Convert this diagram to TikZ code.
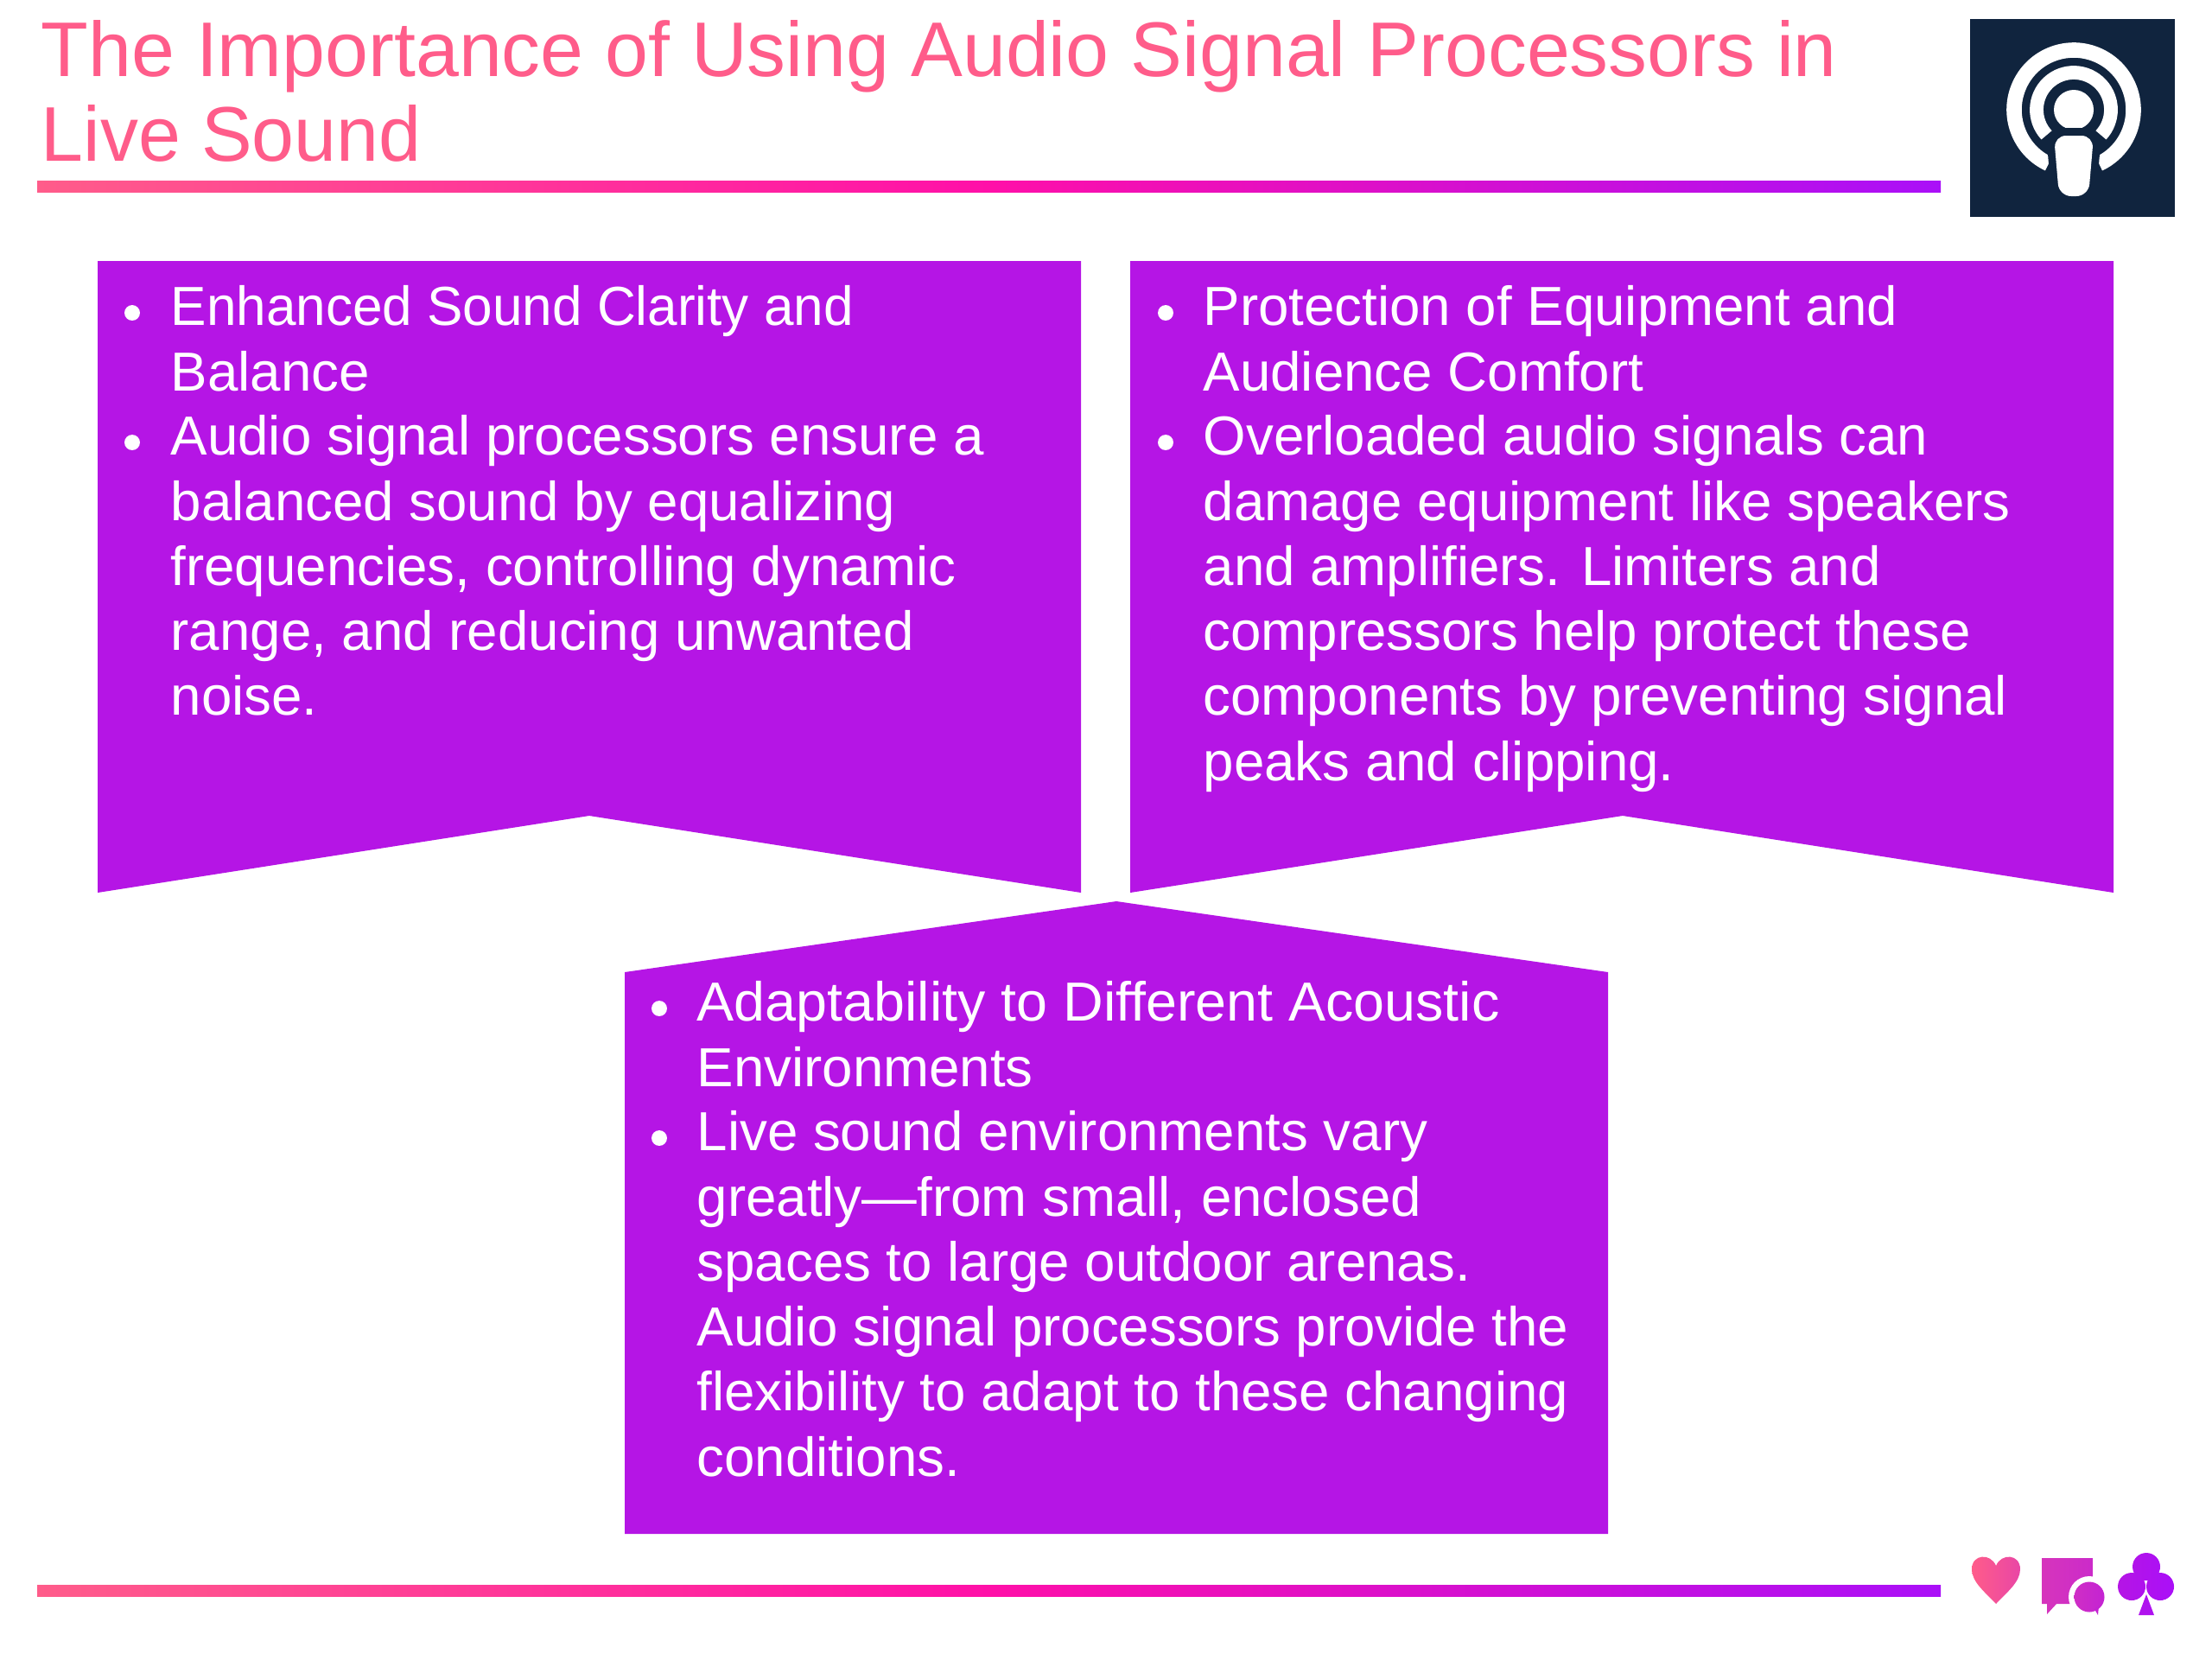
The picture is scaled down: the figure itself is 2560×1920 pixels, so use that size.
\documentclass[tikz,border=0pt]{standalone}
\usepackage{fontspec}
\setmainfont{Liberation Sans}
\usetikzlibrary{positioning}
\definecolor{pinkt}{HTML}{FF5C8A}
\definecolor{pinkm}{HTML}{FF10A8}
\definecolor{violb}{HTML}{B515E5}
\definecolor{violr}{HTML}{AA0FF8}
\definecolor{navyl}{HTML}{10243E}
\tikzset{
  panel/.style={fill=violb, draw=none},
  item/.style={anchor=north west, inner sep=0pt, text=white, align=left,
               font=\fontsize{18.1}{21.4}\selectfont},
  dot/.style={circle, fill=white, inner sep=0pt, minimum size=5.1pt},
  rule/.style={left color=pinkt, right color=violr, middle color=pinkm, draw=none},
  ttl/.style={anchor=north west, inner sep=0pt, text=pinkt, align=left,
              font=\fontsize{25.5}{27.9}\selectfont}
}
\begin{document}
\begin{tikzpicture}[x=0.01cm, y=-0.01cm]
  \useasboundingbox (0,0) rectangle (2560,1920);
  % title and rules
  \node[ttl] (title) at (47,23) {The Importance of Using Audio Signal Processors in\\{\addfontfeature{FakeStretch=0.98}Live Sound}};
  \shade[rule] (43,209) rectangle (2246,222);
  \shade[rule] (43,1834) rectangle (2246,1847);
  % panels
  \fill[panel] (113,302) -- (1251,302) -- (1251,1033) -- (682,944) -- (113,1033) -- cycle;
  \fill[panel] (1308,302) -- (2446,302) -- (2446,1033) -- (1878,944) -- (1308,1033) -- cycle;
  \fill[panel] (723,1125) -- (1292,1043) -- (1861,1125) -- (1861,1775) -- (723,1775) -- cycle;
  % left panel
  \node[item] (a1) at (197,330) {{\addfontfeature{FakeStretch=0.975}Enhanced Sound Clarity and}\\Balance};
  \node[item] (a2) at (197,480) {Audio signal processors ensure a\\balanced sound by equalizing\\frequencies, controlling dynamic\\range, and reducing unwanted\\noise.};
  \node[dot] (a1d) at (153,362) {};
  \node[dot] (a2d) at (153,512) {};
  % right panel
  \node[item] (b1) at (1392,330) {Protection of Equipment and\\Audience Comfort};
  \node[item] (b2) at (1392,480) {Overloaded audio signals can\\damage equipment like speakers\\and amplifiers. Limiters and\\compressors help protect these\\components by preventing signal\\peaks and clipping.};
  \node[dot] (b1d) at (1349,362) {};
  \node[dot] (b2d) at (1349,512) {};
  % lower panel
  \node[item] (c1) at (806,1135) {{\addfontfeature{FakeStretch=1.015}Adaptability to Different Acoustic}\\Environments};
  \node[item] (c2) at (806,1285) {Live sound environments vary\\greatly—from small, enclosed\\spaces to large outdoor arenas.\\Audio signal processors provide the\\flexibility to adapt to these changing\\conditions.};
  \node[dot] (c1d) at (763,1167) {};
  \node[dot] (c2d) at (763,1317) {};
  % logo
  \fill[navyl] (2280,22) rectangle (2517,251);
  \draw[white, line width=5pt] (2400,127) ++(115:69) arc[start angle=115, end angle=425, radius=69];
  \draw[white, line width=4.5pt] (2400,127) ++(137:43) arc[start angle=137, end angle=403, radius=43];
  \fill[white] (2400,127) circle (23);
  \draw[navyl, line width=5pt, rounded corners=4pt] (2377,157) -- (2423,157) -- (2417,227) -- (2383,227) -- cycle;
  \fill[white, rounded corners=4pt] (2377,157) -- (2423,157) -- (2417,227) -- (2383,227) -- cycle;
  % icons
  \shade[left color=pinkt, right color=pinkt!70!violb] (2310,1856) .. controls (2298,1843) and (2282,1831) .. (2282,1816)
     .. controls (2282,1798) and (2304,1797) .. (2310,1812) .. controls (2316,1797) and (2338,1798) .. (2338,1816)
     .. controls (2338,1831) and (2322,1843) .. (2310,1856) -- cycle;
  \shade[left color=pinkt!45!violb, right color=pinkt!30!violb] (2363,1803) -- (2422,1803) -- (2422,1856) -- (2380,1856) -- (2369,1868) -- (2369,1856) -- (2363,1856) -- cycle;
  \fill[white] (2418,1848) circle (24);
  \shade[left color=pinkt!35!violb, right color=pinkt!20!violb] (2418,1848) circle (17.5);
  \fill[pinkt!20!violb] (2424,1862) -- (2428,1869) -- (2429,1858) -- cycle;
  \shade[left color=violb, right color=violr] (2484,1813) circle (16) (2467,1836) circle (16) (2500,1836) circle (16) (2475,1869) -- (2484,1845) -- (2493,1869) -- cycle;
\end{tikzpicture}
\end{document}
